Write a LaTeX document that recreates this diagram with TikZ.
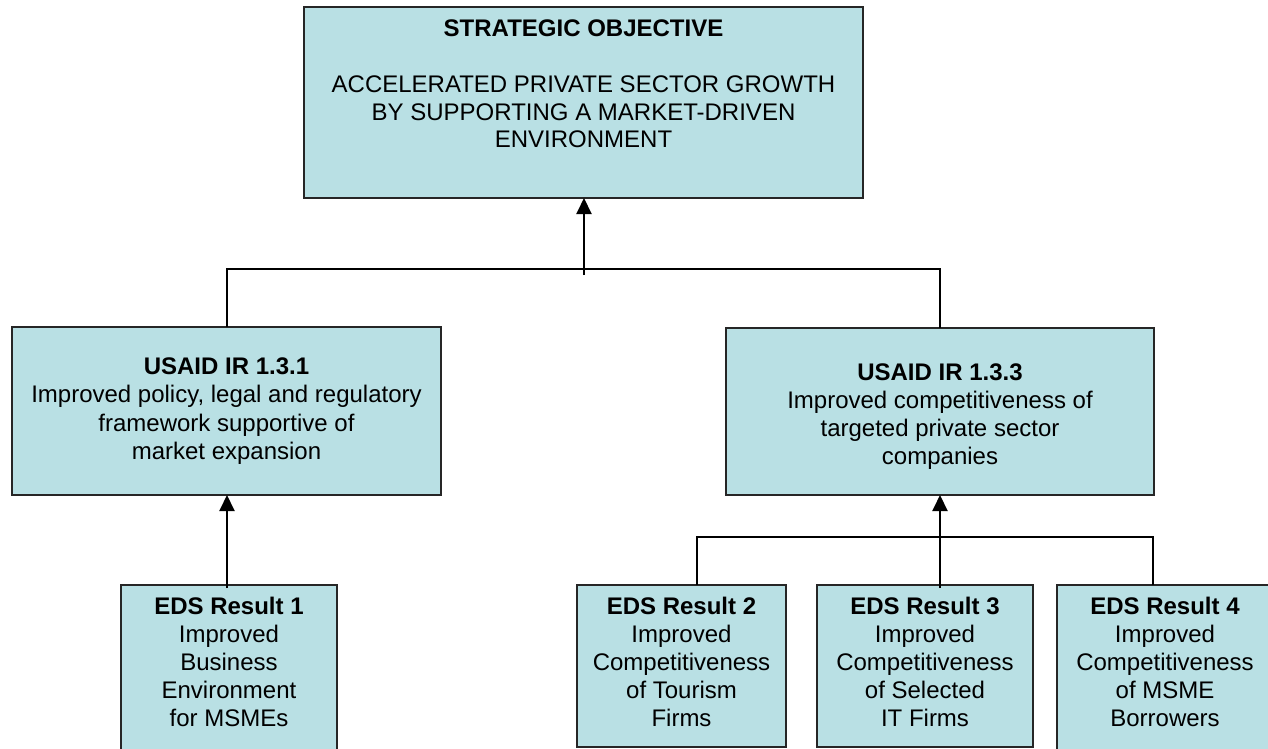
\documentclass[tikz,border=0pt]{standalone}
\usepackage{fontspec}
\setmainfont{Liberation Sans}
\usetikzlibrary{arrows.meta}
\definecolor{boxfill}{RGB}{185,224,228}
\tikzset{
  box/.style={draw=black!85, line width=2pt, fill=boxfill, inner sep=0pt, outer sep=0pt, anchor=north west, align=center, font=\fontsize{24}{28.3}\selectfont},
  txt/.style={align=center, inner sep=0pt, anchor=north, font=\fontsize{24}{28}\selectfont},
  conn/.style={line width=2pt},
  arr/.style={line width=2pt, -{Triangle[length=16pt,width=15pt]}}
}
\begin{document}
\begin{tikzpicture}[x=1pt,y=-1pt]
\useasboundingbox (0,0) rectangle (1268,749);
% boxes
\node[box, minimum width=559pt, minimum height=191pt] (so) at (304,7) {};
\node[box, minimum width=429pt, minimum height=168pt] (ir1) at (12,327) {\textbf{USAID IR 1.3.1}\\Improved policy, legal and regulatory\\framework supportive of\\market expansion};
\node[box, minimum width=428pt, minimum height=167pt] (ir3) at (726,328) {};
\node[box, minimum width=216pt, minimum height=170pt] (r1) at (121,585) {};
\node[box, minimum width=209pt, minimum height=162pt] (r2) at (577,585) {};
\node[box, minimum width=216pt, minimum height=162pt] (r3) at (817,585) {};
\node[box, minimum width=216pt, minimum height=170pt] (r4) at (1057,585) {};
% texts
\node[txt, font=\fontsize{24}{27.5}\selectfont] (sot) at (583.5,19.5) {\textbf{STRATEGIC OBJECTIVE}\\[29pt]ACCELERATED PRIVATE SECTOR GROWTH\\BY SUPPORTING A MARKET-DRIVEN\\ENVIRONMENT};
\node[txt] (ir3t) at (ir3.center |- 0,364) {\textbf{USAID IR 1.3.3}\\Improved competitiveness of\\targeted private sector\\companies};
\node[txt] (r1t) at (r1.center |- 0,597) {\textbf{EDS Result 1}\\Improved\\Business\\Environment\\for MSMEs};
\node[txt] (r2t) at (r2.center |- 0,597) {\textbf{EDS Result 2}\\Improved\\Competitiveness\\of Tourism\\Firms};
\node[txt] (r3t) at (r3.center |- 0,597) {\textbf{EDS Result 3}\\Improved\\Competitiveness\\of Selected\\IT Firms};
\node[txt] (r4t) at (1165,597) {\textbf{EDS Result 4}\\Improved\\Competitiveness\\of MSME\\Borrowers};
% connectors
\coordinate (hub) at (584,275);
\draw[conn] (ir1.north -| 227,0) |- (940,269) -- (ir3.north -| 940,0);
\draw[arr] (hub) -- (so.south -| hub);
\draw[arr] (r1.north -| 227,0) ++(0,3) -- (ir1.south -| 227,0);
\draw[conn] (r2.north -| 697,0) |- (1153,537) -- (r4.north -| 1153,0);
\draw[arr] (r3.north -| 940,0) ++(0,3) -- (ir3.south -| 940,0);
\end{tikzpicture}
\end{document}
